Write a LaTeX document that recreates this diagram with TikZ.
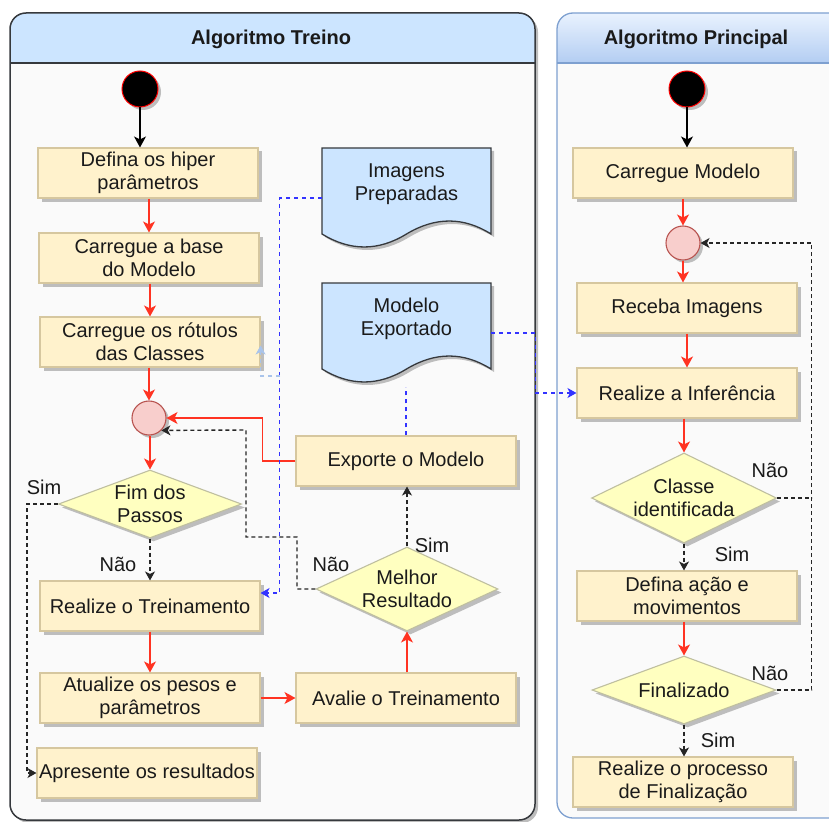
\documentclass[tikz,border=0pt]{standalone}
\usepackage{fontspec}
\setmainfont{Liberation Sans}
\usetikzlibrary{shapes.geometric,arrows.meta,shadows,calc}

\definecolor{boxfill}{HTML}{FFF2CC}
\definecolor{boxline}{HTML}{D6C79F}
\definecolor{dfill}{HTML}{FFFFC0}
\definecolor{dline}{HTML}{BFBFA0}
\definecolor{mfill}{HTML}{F8CECC}
\definecolor{mline}{HTML}{B85450}
\definecolor{docfill}{HTML}{CCE5FF}
\definecolor{docline}{HTML}{36393D}
\definecolor{lanebg}{HTML}{FAFAFA}
\definecolor{laneline}{HTML}{36393D}
\definecolor{hdrfill}{HTML}{CCE5FF}
\definecolor{hdrtop}{HTML}{E9F2FE}
\definecolor{hdrbot}{HTML}{B3CDF2}
\definecolor{laneblue}{HTML}{7EA0D0}
\definecolor{arrred}{HTML}{FF3322}
\definecolor{dashblue}{HTML}{3333FF}
\definecolor{paleblue}{HTML}{A9C4EB}
\definecolor{shadowcol}{HTML}{BDBDBD}
\definecolor{txtcol}{HTML}{1A1A1A}

% document shape (top edge, wavy bottom), relative to the text centre
\def\docpath{(-84.5,-36) -- (84.5,-36) -- (84.5,50)
  .. controls (57,32.7) and (28.8,32.7) .. (0,50)
  .. controls (-28.2,67.3) and (-56.3,67.3) .. (-84.5,50) -- cycle}
\newcommand\docoutline[2]{%
  \fill[shadowcol, shift={(#1+3,#2+3)}] \docpath;
  \filldraw[fill=docfill, draw=docline, line width=1.3pt, shift={(#1,#2)}] \docpath;}

\tikzset{
  txt/.style={font=\fontsize{20}{23}\selectfont, text=txtcol},
  title/.style={font=\fontsize{20}{23}\selectfont\bfseries, text=txtcol},
  stepbox/.style={txt, rectangle, draw=boxline, fill=boxfill, line width=1.1pt,
    minimum width=220pt, minimum height=50pt, align=center, inner sep=2pt,
    drop shadow={shadow xshift=3.5pt, shadow yshift=-3.5pt, fill=shadowcol, opacity=1}},
  doctext/.style={txt, align=center, minimum width=169pt, inner sep=0pt},
  decision/.style={diamond, draw=dline, fill=dfill, line width=1.1pt, inner sep=0pt,
    drop shadow={shadow xshift=3.5pt, shadow yshift=-3.5pt, fill=shadowcol, opacity=1}},
  startdot/.style={circle, fill=black, draw=red, line width=1pt, minimum size=36pt, inner sep=0pt,
    drop shadow={shadow xshift=3pt, shadow yshift=-3pt, fill=shadowcol, opacity=1}},
  mergedot/.style={circle, fill=mfill, draw=mline, line width=1.1pt, minimum size=34pt, inner sep=0pt,
    drop shadow={shadow xshift=3pt, shadow yshift=-3pt, fill=shadowcol, opacity=1}},
  bigtip/.style={-{Stealth[length=11pt,width=12pt,inset=3pt]}},
  smalltip/.style={-{Stealth[length=9pt,width=10pt,inset=2.5pt]}},
  redflow/.style={draw=arrred, line width=1.3pt, bigtip},
  blackflow/.style={draw=black, line width=1.3pt, bigtip},
  blackdash/.style={draw=black!85, line width=1.4pt, dash pattern=on 4pt off 3pt, smalltip},
  blackdashline/.style={draw=black!85, line width=1.4pt, dash pattern=on 4pt off 3pt},
  bluedash/.style={draw=dashblue, line width=1.3pt, dash pattern=on 4pt off 4pt},
}

\begin{document}
\begin{tikzpicture}[x=1pt,y=-1pt]
\useasboundingbox (0,0) rectangle (829,821);
\clip (0,0) rectangle (829,821);

% ---------- swimlane: Algoritmo Treino ----------
\fill[shadowcol, rounded corners=16] (13,16) rectangle (538,823);
\begin{scope}
  \clip[rounded corners=16] (10,13) rectangle (535,820);
  \fill[lanebg] (10,13) rectangle (535,820);
  \fill[hdrfill] (10,13) rectangle (535,63);
\end{scope}
\draw[laneline, line width=1.5pt, rounded corners=16] (10,13) rectangle (535,820);
\draw[laneline, line width=1.3pt] (10,63) -- (535,63);
\node[title] (treino) at (271,39) {Algoritmo Treino};

% ---------- swimlane: Algoritmo Principal ----------
\begin{scope}
  \clip[rounded corners=16] (557,13) rectangle (870,818);
  \fill[lanebg] (557,13) rectangle (870,818);
  \shade[top color=hdrtop, bottom color=hdrbot] (557,13) rectangle (870,63);
\end{scope}
\draw[laneblue, line width=1.3pt, rounded corners=16] (557,13) rectangle (870,818);
\draw[laneblue, line width=1.2pt] (557,63) -- (870,63);
\node[title] (principal) at (696,39) {Algoritmo Principal};

% ---------- data documents ----------
\docoutline{406.5}{184}
\node[doctext] (imgdoc) at (406.5,184) {Imagens\\Preparadas};
\docoutline{406.5}{319}
\node[doctext] (moddoc) at (406.5,319) {Modelo\\Exportado};

% ---------- training flow ----------
\node[startdot] (start1) at (140,89) {};
\node[stepbox] (defina) at (148,173) {Defina os hiper\\parâmetros};
\node[stepbox] (base) at (149,258) {Carregue a base\\do Modelo};
\node[stepbox] (rotulos) at (150,342) {Carregue os rótulos\\das Classes};
\node[mergedot] (merge1) at (149,418) {};
\node[decision, minimum width=183pt, minimum height=68pt,
      label={[txt,align=center]center:{Fim dos\\Passos}}] (fim) at (150,504) {};
\node[stepbox] (realize) at (150,606) {Realize o Treinamento};
\node[stepbox] (atualiza) at (150,698) {Atualize os pesos e\\parâmetros};
\node[stepbox] (apresente) at (147,773) {Apresente os resultados};
\node[stepbox] (exporte) at (406,461) {Exporte o Modelo};
\node[decision, minimum width=182pt, minimum height=84pt,
      label={[txt,align=center]center:{Melhor\\Resultado}}] (melhor) at (407,589) {};
\node[stepbox] (avalie) at (406,698) {Avalie o Treinamento};

% ---------- main flow ----------
\node[startdot] (start2) at (687,89) {};
\node[stepbox] (carrega) at (683,173) {Carregue Modelo};
\node[mergedot] (merge2) at (683,243) {};
\node[stepbox] (receba) at (687,308) {Receba Imagens};
\node[stepbox] (infer) at (687,393) {Realize a Inferência};
\node[decision, minimum width=185pt, minimum height=90pt,
      label={[txt,align=center]center:{Classe\\identificada}}] (classe) at (684,498) {};
\node[stepbox] (acao) at (687,596) {Defina ação e\\movimentos};
\node[decision, minimum width=184pt, minimum height=68pt,
      label={[txt,align=center]center:{Finalizado}}] (final) at (684,690) {};
\node[stepbox] (processo) at (683,782) {Realize o processo\\de Finalização};

% ---------- connectors: training ----------
\draw[blackflow] (start1) -- (start1 |- defina.north);
\draw[redflow] (defina.south -| base) -- (base.north);
\draw[redflow] (base.south -| rotulos) -- (rotulos.north);
\draw[redflow] (rotulos.south -| merge1) -- (merge1.north);
\draw[redflow] (merge1.south -| fim) -- (fim.north);
\draw[blackdash] (fim.south) -- (realize.north);
\draw[blackdash] (fim.west) -- ++(-31,0) |- (apresente.west);
\draw[redflow] (realize.south) -- (atualiza.north);
\draw[redflow] (atualiza.east) -- (avalie.west);
\draw[redflow] (avalie.north -| melhor) -- (melhor.south);
\draw[blackdash] (melhor.north) -- (melhor.north |- exporte.south);
\draw[redflow] (exporte.west) -- ++(-33,0) |- (merge1.east);
\coordinate (naoa) at (297,537);
\coordinate (naob) at (246,430);
\draw[blackdash] (melhor.west) -| (naoa) -| (naob) -- (merge1.-45);

% data links
\draw[bluedash, smalltip]
  ([yshift=-14pt]imgdoc.west) -- ++(-42,0) |- ([yshift=13pt]realize.east);
\coordinate (palestart) at (280,376);
\draw[paleblue, line width=1.2pt, dash pattern=on 4pt off 4pt, smalltip]
  (palestart) -| ([yshift=22pt]rotulos.south east);
\draw[bluedash, smalltip]
  ([yshift=-14pt]moddoc.east) -- ++(44,0) |- (infer.west);
\draw[bluedash] (exporte.north) -- ++(0,-48);

% ---------- connectors: main ----------
\draw[blackflow] (start2) -- (start2 |- carrega.north);
\draw[redflow] (carrega.south -| merge2) -- (merge2.north);
\draw[redflow] (merge2.south) -- (merge2.south |- receba.north);
\draw[redflow] (receba.south) -- (infer.north);
\draw[redflow] (infer.south -| classe) -- (classe.north);
\draw[blackdash] (classe.south) -- (classe.south |- acao.north);
\draw[redflow] (acao.south -| final) -- (final.north);
\draw[blackdash] (final.south) -- (final.south |- processo.north);
\draw[blackdashline] (classe.east) -- ++(35,0);
\draw[blackdash] (final.east) -- ++(35,0) |- (merge2.east);

% ---------- branch labels ----------
\node[txt] (simfim) at (44,487) {Sim};
\node[txt] (naofim) at (118,564) {Não};
\node[txt] (simmelhor) at (432,545) {Sim};
\node[txt] (naomelhor) at (331,564) {Não};
\node[txt] (naoclasse) at (770,470) {Não};
\node[txt] (simclasse) at (732,554) {Sim};
\node[txt] (naofinal) at (770,673) {Não};
\node[txt] (simfinal) at (718,740) {Sim};
\end{tikzpicture}
\end{document}
